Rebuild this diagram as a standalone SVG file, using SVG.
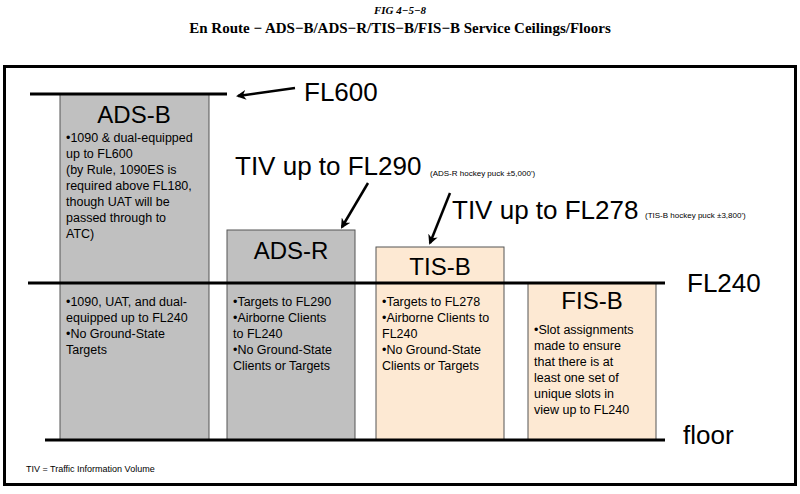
<svg xmlns="http://www.w3.org/2000/svg" width="800" height="494" viewBox="0 0 800 494">
<defs>
<style>
text{font-family:"Liberation Sans",Arial,sans-serif;fill:#000}
.t{font-family:"Liberation Serif","Times New Roman",serif;font-weight:bold;font-size:15px}
.h{font-size:24px}
.big{font-size:26px}
.b{font-size:12.5px}
.s{font-size:8px}
.g{fill:#c0c0c0;stroke:#555;stroke-width:1}
.p{fill:#fde9d3;stroke:#555;stroke-width:1}
.ln{stroke:#000;stroke-width:3}
.ar{stroke:#000;stroke-width:2.5;fill:none;marker-end:url(#m)}
</style>
<marker id="m" viewBox="0 0 10 10" refX="8" refY="5" markerWidth="4" markerHeight="4" orient="auto"><path d="M0,0 L10,5 L0,10 L3,5 Z" fill="#000"/></marker>
</defs>
<rect width="800" height="494" fill="#fff"/>
<text x="400" y="14" text-anchor="middle" style="font-family:'Liberation Serif',serif;font-style:italic;font-weight:bold;font-size:11px">FIG 4−5−8</text>
<text class="t" x="400" y="33" text-anchor="middle">En Route − ADS−B/ADS−R/TIS−B/FIS−B Service Ceilings/Floors</text>
<rect x="4.5" y="66.5" width="791" height="418" fill="none" stroke="#000" stroke-width="3"/>
<g id="adsb"><rect class="g" x="60" y="94" width="149" height="346"/>
<text class="h" x="134" y="123" text-anchor="middle">ADS-B</text>
<text class="b" x="66"><tspan x="66" y="142">•1090 &amp; dual-equipped</tspan><tspan x="66" y="158">up to FL600</tspan><tspan x="66" y="174">(by Rule, 1090ES is</tspan><tspan x="66" y="190">required above FL180,</tspan><tspan x="66" y="206">though UAT will be</tspan><tspan x="66" y="222">passed through to</tspan><tspan x="66" y="238">ATC)</tspan></text>
<text class="b"><tspan x="66" y="306">•1090, UAT, and dual-</tspan><tspan x="66" y="322">equipped up to FL240</tspan><tspan x="66" y="338">•No Ground-State</tspan><tspan x="66" y="354">Targets</tspan></text></g>
<g id="adsr"><rect class="g" x="227" y="230" width="128" height="210"/>
<text class="h" x="291" y="259" text-anchor="middle">ADS-R</text>
<text class="b"><tspan x="233" y="306">•Targets to FL290</tspan><tspan x="233" y="322">•Airborne Clients</tspan><tspan x="233" y="338">to FL240</tspan><tspan x="233" y="354">•No Ground-State</tspan><tspan x="233" y="370">Clients or Targets</tspan></text></g>
<g id="tisb"><rect class="p" x="376" y="247" width="128" height="193"/>
<text class="h" x="440" y="275" text-anchor="middle">TIS-B</text>
<text class="b"><tspan x="382" y="306">•Targets to FL278</tspan><tspan x="382" y="322">•Airborne Clients to</tspan><tspan x="382" y="338">FL240</tspan><tspan x="382" y="354">•No Ground-State</tspan><tspan x="382" y="370">Clients or Targets</tspan></text></g>
<g id="fisb"><rect class="p" x="528" y="283" width="128" height="157"/>
<text class="h" x="592" y="309" text-anchor="middle">FIS-B</text>
<text class="b"><tspan x="534" y="334">•Slot assignments</tspan><tspan x="534" y="350">made to ensure</tspan><tspan x="534" y="366">that there is at</tspan><tspan x="534" y="382">least one set of</tspan><tspan x="534" y="398">unique slots in</tspan><tspan x="534" y="414">view up to FL240</tspan></text></g>
<g id="connectors">
<line class="ln" x1="30" y1="94" x2="227" y2="94"/>
<line class="ln" x1="28" y1="283" x2="665" y2="283"/>
<line class="ln" x1="45" y1="440" x2="665" y2="440"/>
<line class="ar" x1="295" y1="88" x2="238" y2="96"/>
<line class="ar" x1="368" y1="183" x2="342" y2="227"/>
<line class="ar" x1="450" y1="193" x2="430" y2="243"/>
</g>
<text class="big" x="304" y="101">FL600</text>
<text class="big" x="235" y="175">TIV up to FL290</text>
<text class="s" x="430" y="176">(ADS-R hockey puck ±5,000')</text>
<text class="big" x="452" y="219">TIV up to FL278</text>
<text class="s" x="645" y="218">(TIS-B hockey puck ±3,800')</text>
<text class="big" x="687" y="292">FL240</text>
<text class="big" x="683" y="444">floor</text>
<text x="26" y="472" style="font-size:9px">TIV = Traffic Information Volume</text>
</svg>
